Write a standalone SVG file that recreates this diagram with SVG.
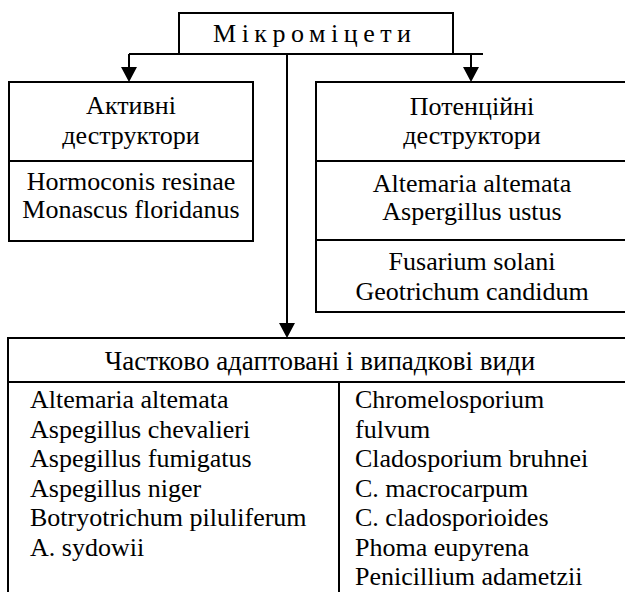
<svg xmlns="http://www.w3.org/2000/svg" width="625" height="592" viewBox="0 0 625 592">
<style>
  .box { fill: none; stroke: #000; stroke-width: 2; }
  .ln { stroke: #000; stroke-width: 2; fill: none; }
  .ah { fill: #000; stroke: none; }
  text { font-family: "Liberation Serif", "Times New Roman", serif; font-size: 26px; fill: #000; }
  .c { text-anchor: middle; }
  .hd { font-size: 27px; }
</style>
<rect width="625" height="592" fill="#fff"/>
<g id="connectors">
  <line class="ln" x1="129" y1="54" x2="483" y2="54"/>
  <line class="ln" x1="129" y1="54" x2="129" y2="70"/>
  <polygon class="ah" points="121,67 137,67 129,82"/>
  <line class="ln" x1="471" y1="54" x2="471" y2="70"/>
  <polygon class="ah" points="463,67 479,67 471,82"/>
  <line class="ln" x1="287" y1="54" x2="287" y2="326"/>
  <polygon class="ah" points="279,323 295,323 287,338"/>
</g>
<g id="node-top">
  <rect class="box" x="179" y="13" width="274" height="41"/>
  <text x="213" y="42" textLength="198" lengthAdjust="spacing">Мікроміцети</text>
</g>
<g id="node-active">
  <rect class="box" x="9" y="82" width="244" height="159"/>
  <line class="ln" x1="9" y1="161" x2="253" y2="161"/>
  <text class="c" x="131" y="114">Активні</text>
  <text class="c" x="131" y="144">деструктори</text>
  <text class="c" x="131" y="189.5">Hormoconis resinae</text>
  <text class="c" x="131" y="217.5">Monascus floridanus</text>
</g>
<g id="node-potential">
  <rect class="box" x="316" y="82" width="330" height="230"/>
  <line class="ln" x1="316" y1="161" x2="625" y2="161"/>
  <line class="ln" x1="316" y1="240" x2="625" y2="240"/>
  <text class="c" x="472" y="115">Потенційні</text>
  <text class="c" x="472" y="144">деструктори</text>
  <text class="c" x="472" y="192">Altemaria altemata</text>
  <text class="c" x="472" y="220">Aspergillus ustus</text>
  <text class="c" x="472" y="270">Fusarium solani</text>
  <text class="c" x="472" y="300">Geotrichum candidum</text>
</g>
<g id="node-partial">
  <rect class="box" x="8" y="338" width="640" height="270"/>
  <line class="ln" x1="8" y1="382" x2="625" y2="382"/>
  <line class="ln" x1="339" y1="382" x2="339" y2="592"/>
  <text class="c hd" x="320" y="370">Частково адаптовані і випадкові види</text>
  <text x="30" y="408">Altemaria altemata</text>
  <text x="30" y="437.5">Aspegillus chevalieri</text>
  <text x="30" y="467">Aspegillus fumigatus</text>
  <text x="30" y="496.5">Aspegillus niger</text>
  <text x="30" y="526">Botryotrichum piluliferum</text>
  <text x="30" y="555.5">A. sydowii</text>
  <text x="355" y="408">Chromelosporium</text>
  <text x="355" y="437.5">fulvum</text>
  <text x="355" y="467">Cladosporium bruhnei</text>
  <text x="355" y="496.5">C. macrocarpum</text>
  <text x="355" y="526">C. cladosporioides</text>
  <text x="355" y="555.5">Phoma eupyrena</text>
  <text x="355" y="585">Penicillium adametzii</text>
</g>
</svg>
